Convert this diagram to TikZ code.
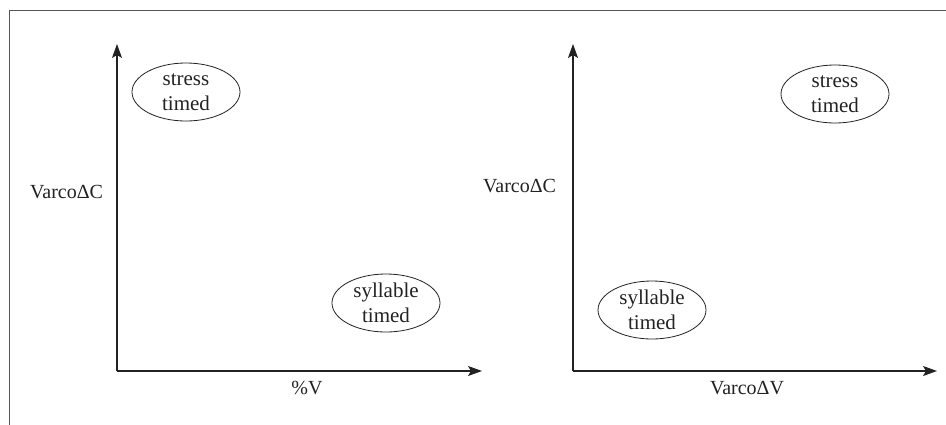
\documentclass[tikz,border=0pt]{standalone}
\usepackage{fontspec}
\setmainfont{Liberation Serif}
\usetikzlibrary{arrows.meta,shapes.geometric}
\definecolor{ink}{HTML}{222222}
\definecolor{framegray}{HTML}{555555}
\tikzset{
  axisline/.style={draw=ink, line width=1.1pt, -{Stealth[length=14pt,width=10pt,inset=3pt]}},
  regime/.style={ellipse, draw=ink, line width=0.8pt, minimum width=108pt, minimum height=58pt,
    inner sep=0pt, align=center, text=ink, font=\fontsize{21}{25}\selectfont},
  label/.style={text=ink, font=\fontsize{20}{24}\selectfont, inner sep=0pt},
}
\begin{document}
\begin{tikzpicture}[x=1pt,y=-1pt]
\useasboundingbox (0,0) rectangle (946,424);
% outer frame (only top and left sides fall inside the page)
\draw[framegray, line width=0.9pt] (9,430) -- (9,10) -- (950,10);

% left chart: VarcoDeltaC against %V
\coordinate (o1) at (117,371);
\coordinate (y1) at (117,44);
\coordinate (x1) at (482,371);
\draw[axisline] (o1) -- (y1);
\draw[axisline] (o1) -- (x1);
\node[label, anchor=west] (yl1) at (30,192) {VarcoΔC};
\node[label] (xl1) at (307,388) {\%V};
\node[regime] (st1) at (186,92) {stress\\timed};
\node[regime] (sy1) at (386,303) {syllable\\timed};

% right chart: VarcoDeltaC against VarcoDeltaV
\coordinate (o2) at (573,371);
\coordinate (y2) at (573,44);
\coordinate (x2) at (937,371);
\draw[axisline] (o2) -- (y2);
\draw[axisline] (o2) -- (x2);
\node[label, anchor=west] (yl2) at (483,186) {VarcoΔC};
\node[label] (xl2) at (747,388) {VarcoΔV};
\node[regime] (st2) at (835,94) {stress\\timed};
\node[regime] (sy2) at (652,310) {syllable\\timed};
\end{tikzpicture}
\end{document}
